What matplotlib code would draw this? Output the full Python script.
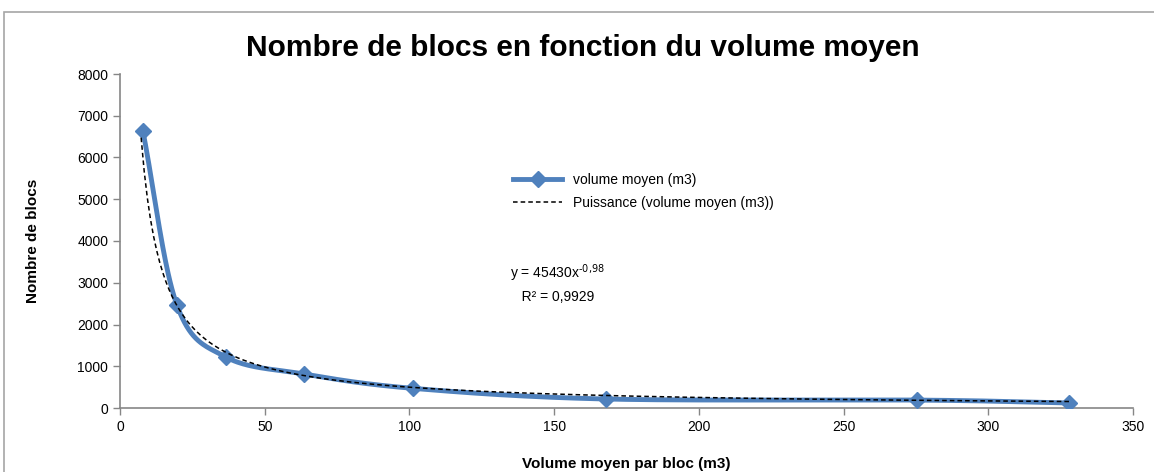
import numpy as np
import matplotlib.pyplot as plt
from matplotlib.patches import Rectangle

plt.rcParams['font.family'] = ['Liberation Sans', 'DejaVu Sans']

# data
volume = [7.9, 19.7, 36.6, 63.6, 101.3, 168.0, 275.4, 328.0]
nb_blocs = [6640, 2460, 1220, 814, 470, 215, 190, 120]
fit_a, fit_b = 45430, -0.98
xticks = [0, 50, 100, 150, 200, 250, 300, 350]
yticks = [0, 1000, 2000, 3000, 4000, 5000, 6000, 7000, 8000]


def smooth(xs, ys, n=40):
    # catmull-rom, like the excel "smoothed line"
    x = np.asarray(xs, float)
    y = np.asarray(ys, float)
    px = np.concatenate([[2 * x[0] - x[1]], x, [2 * x[-1] - x[-2]]])
    py = np.concatenate([[2 * y[0] - y[1]], y, [2 * y[-1] - y[-2]]])
    t = np.linspace(0, 1, n)
    ox, oy = [], []
    for i in range(1, len(px) - 2):
        for p, o in ((px, ox), (py, oy)):
            p0, p1, p2, p3 = p[i - 1], p[i], p[i + 1], p[i + 2]
            o.extend(0.5 * (2 * p1 + (-p0 + p2) * t
                            + (2 * p0 - 5 * p1 + 4 * p2 - p3) * t ** 2
                            + (-p0 + 3 * p1 - 3 * p2 + p3) * t ** 3))
    return np.array(ox), np.array(oy)


fig = plt.figure(figsize=(11.54, 4.72), dpi=100)
ax = fig.add_axes([120 / 1154, 1 - 408 / 472, (1133 - 120) / 1154, (408 - 74) / 472])

fig.patches.append(Rectangle((4 / 1154, -0.05), 1.2, 1 - 12 / 472 + 0.05,
                             transform=fig.transFigure, fill=False,
                             edgecolor='#a6a6a6', linewidth=1.2))

sx, sy = smooth(volume, nb_blocs)
blue = '#4f81bd'
ax.plot(sx, sy, color=blue, linewidth=3.5, solid_capstyle='round', zorder=2)
ax.plot(volume, nb_blocs, linestyle='none', marker='D', markersize=8,
        color=blue, zorder=3)
ax.plot([], [], color=blue, linewidth=3.5, marker='D', markersize=8,
        label='volume moyen (m3)')

tx = np.linspace(min(volume) - 0.6, max(volume), 300)
ax.plot(tx, fit_a * tx ** fit_b, color='black', linestyle=(0, (3, 2)),
        linewidth=1.1, zorder=4, label='Puissance (volume moyen (m3))')

ax.set_xlim(0, 350)
ax.set_ylim(0, 8000)
ax.set_xticks(xticks)
ax.set_yticks(yticks)
ax.tick_params(labelsize=10, color='#868686', length=5, width=1)
for s in ('top', 'right'):
    ax.spines[s].set_visible(False)
for s in ('left', 'bottom'):
    ax.spines[s].set_color('#868686')
    ax.spines[s].set_linewidth(1.2)

fig.text(583 / 1154, 1 - 48 / 472, 'Nombre de blocs en fonction du volume moyen',
         ha='center', va='center', fontsize=21.5, fontweight='bold')
ax.set_xlabel('Volume moyen par bloc (m3)', fontsize=11, fontweight='bold', labelpad=17)
ax.set_ylabel('Nombre de blocs', fontsize=11, fontweight='bold', labelpad=27)

ax.legend(loc='upper left', bbox_to_anchor=(0.376, 0.74), frameon=False,
          fontsize=10, handlelength=3.5, labelspacing=0.6)
ax.text(0.385, 0.373, 'y = 45430x$^{\\text{-0,98}}$\n   R² = 0,9929', transform=ax.transAxes,
        fontsize=10, va='center', ha='left', linespacing=1.5)

fig.savefig('out.png', dpi=100)
